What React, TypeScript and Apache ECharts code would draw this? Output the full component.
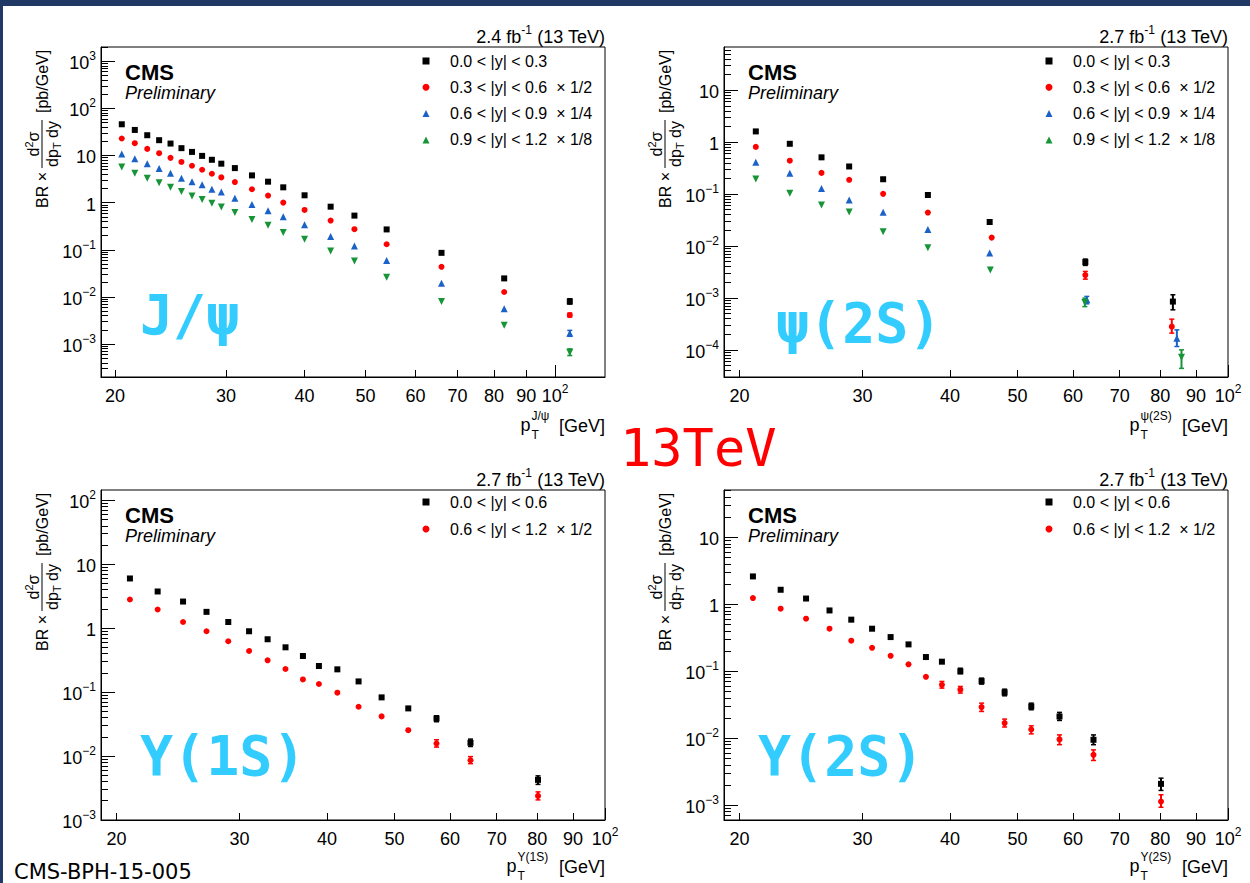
import React, { useEffect, useRef } from 'react';
import * as echarts from 'echarts';

const FONT = '"Liberation Sans", Arial, Helvetica, sans-serif';
const MONO = '"DejaVu Sans Mono", monospace';
const C_BLACK = '#000000';
const C_RED = '#ff0000';
const C_BLUE = '#1a62c7';
const C_GREEN = '#179437';
const C_CYAN = '#33ccff';

// ---------------- J/psi ----------------
const jpsiPt = [20.5, 21.5, 22.5, 23.5, 24.5, 25.5, 26.5, 27.5, 28.5, 29.5, 31, 33, 35, 37, 40, 44, 48, 54, 66, 83, 105.5];
const jpsiY1 = [45.9, 34.8, 26.9, 21.1, 17.9, 14.3, 11.9, 9.8, 8.1, 6.7, 5.4, 3.78, 2.78, 2.11, 1.43, 0.82, 0.53, 0.27, 0.086, 0.0247, 0.008];
const jpsiY2 = [22.9, 18.2, 13.8, 11.2, 8.9, 7.3, 6.05, 4.98, 4.1, 3.43, 2.73, 1.92, 1.41, 1.0, 0.7, 0.417, 0.273, 0.131, 0.0435, 0.0127, 0.0041];
const jpsiY3 = [10.8, 8.5, 6.7, 5.3, 4.2, 3.3, 2.78, 2.4, 1.91, 1.68, 1.24, 0.91, 0.67, 0.5, 0.34, 0.19, 0.12, 0.059, 0.0196, 0.0056, 0.0017];
const jpsiY4 = [5.7, 4.2, 3.3, 2.65, 2.11, 1.73, 1.38, 1.17, 0.97, 0.81, 0.615, 0.44, 0.33, 0.232, 0.168, 0.094, 0.058, 0.026, 0.008, 0.0025, 0.00067];
const jpsiErr1 = [[105.5, 0.00705, 0.00914]];
const jpsiErr2 = [[105.5, 0.00374, 0.00455]];
const jpsiErr3 = [[105.5, 0.00146, 0.00195]];
const jpsiErr4 = [[105.5, 0.00057, 0.00079]];

// ---------------- psi(2S) ----------------
const psiPt1 = [21.1, 23.6, 26.2, 28.7, 32.1, 37.2, 45.6, 62.5, 83.4];
const psiPt2 = [21.1, 23.6, 26.2, 28.7, 32.1, 37.2, 45.9, 62.5, 83.1];
const psiPt3 = [21.1, 23.6, 26.2, 28.7, 32.1, 37.2, 45.6, 62.8, 84.5];
const psiPt4 = [21.1, 23.6, 26.2, 28.7, 32.1, 37.2, 45.7, 62.4, 85.8];
const psiY1 = [1.61, 0.93, 0.51, 0.34, 0.193, 0.096, 0.029, 0.0049, 0.00085];
const psiY2 = [0.81, 0.44, 0.256, 0.188, 0.101, 0.044, 0.0145, 0.00275, 0.00028];
const psiY3 = [0.41, 0.252, 0.128, 0.077, 0.0446, 0.0207, 0.0073, 0.00092, 0.000168];
const psiY4 = [0.196, 0.104, 0.0618, 0.0453, 0.0189, 0.0093, 0.00344, 0.00082, 0.0000723];
const psiErr1 = [[62.5, 0.00423, 0.0056], [83.4, 0.00059, 0.00115]];
const psiErr2 = [[62.5, 0.0023, 0.00324], [83.1, 0.00021, 0.00039]];
const psiErr3 = [[62.8, 0.00077, 0.00107], [84.5, 0.000116, 0.000243]];
const psiErr4 = [[62.4, 0.00068, 0.00099], [85.8, 0.000044, 0.0001]];

// ---------------- Upsilon(1S) ----------------
const upsPt = [20.9, 22.9, 24.9, 26.9, 28.9, 30.95, 32.9, 34.9, 36.96, 38.96, 41.4, 44.4, 47.9, 52.3, 57.4, 64.2, 80.2];
const ups1Y1 = [5.99, 3.75, 2.61, 1.8, 1.25, 0.895, 0.671, 0.502, 0.367, 0.256, 0.227, 0.147, 0.0827, 0.0556, 0.0387, 0.0161, 0.00424];
const ups1Y2 = [2.81, 1.96, 1.25, 0.895, 0.624, 0.44, 0.314, 0.23, 0.158, 0.134, 0.098, 0.059, 0.0417, 0.0254, 0.0157, 0.0086, 0.00238];
const ups1Err1 = [[57.4, 0.0344, 0.0427], [64.2, 0.0141, 0.0184], [80.2, 0.0036, 0.0049]];
const ups1Err2 = [[57.4, 0.0138, 0.018], [64.2, 0.0076, 0.0098], [80.2, 0.00206, 0.00275]];

// ---------------- Upsilon(2S) ----------------
const ups2Y1 = [2.61, 1.65, 1.22, 0.81, 0.59, 0.432, 0.324, 0.252, 0.163, 0.139, 0.1, 0.0713, 0.0483, 0.0298, 0.0211, 0.00947, 0.00208];
const ups2Y2 = [1.24, 0.86, 0.61, 0.432, 0.286, 0.224, 0.17, 0.127, 0.0827, 0.0628, 0.053, 0.0292, 0.0168, 0.0135, 0.0096, 0.00565, 0.00113];
const ups2Err1 = [[41.4, 0.0918, 0.111], [44.4, 0.0643, 0.079], [47.9, 0.043, 0.054], [52.3, 0.0266, 0.0334], [57.4, 0.0184, 0.0243], [64.2, 0.008, 0.0112], [80.2, 0.00166, 0.00253]];
const ups2Err2 = [[38.96, 0.056, 0.0705], [41.4, 0.0472, 0.0593], [44.4, 0.0251, 0.0334], [47.9, 0.0147, 0.0193], [52.3, 0.0116, 0.0153], [57.4, 0.008, 0.0112], [64.2, 0.00465, 0.0067], [80.2, 0.00093, 0.00143]];

// ---------------- labels ----------------
const rapNames4 = ['0.0 < |y| < 0.3', '0.3 < |y| < 0.6  × 1/2', '0.6 < |y| < 0.9  × 1/4', '0.9 < |y| < 1.2  × 1/8'];
const rapNames2 = ['0.0 < |y| < 0.6', '0.6 < |y| < 1.2  × 1/2'];
const xLabelValues = [20, 30, 40, 50, 60, 70, 80, 90, 100];
const xMinorTickValues = [20, 30, 40, 50, 60, 70, 80, 90];
const xMajorTickValues = [100];
const stateNames = ['J/ψ', 'ψ(2S)', 'Υ(1S)', 'Υ(2S)'];
const lumiValues = ['2.4', '2.7', '2.7', '2.7'];

// ---------------- layout (positions only) ----------------
const panels = [
  { left: 101, top: 47, width: 504, height: 330, xMin: 19, xMax: 120, yMin: 2e-4, yMax: 2000, supOff: 74, bigX: 140, bigY: 315 },
  { left: 724, top: 47, width: 504, height: 330, xMin: 19, xMax: 100.01, yMin: 3e-5, yMax: 68, supOff: 88, bigX: 776, bigY: 323 },
  { left: 101, top: 490, width: 504, height: 330, xMin: 19, xMax: 100.01, yMin: 0.000999, yMax: 145, supOff: 88, bigX: 140, bigY: 756 },
  { left: 724, top: 490, width: 504, height: 330, xMin: 19, xMax: 100.01, yMin: 6e-4, yMax: 51, supOff: 88, bigX: 758, bigY: 756 },
];

const axisRich = {
  b: { fontFamily: FONT, fontSize: 18, lineHeight: 22, verticalAlign: 'bottom', color: '#000' },
  s: { fontFamily: FONT, fontSize: 12, lineHeight: 8, verticalAlign: 'top', color: '#000' },
};

function yFmt(v: number) {
  const e = Math.round(Math.log10(v));
  if (e === 0) return '{b|1}';
  if (e === 1) return '{b|10}';
  return '{b|10}{s|' + (e < 0 ? '−' : '') + Math.abs(e) + '}';
}
function xFmt(v: number) {
  if (Math.abs(v - 100) < 1e-6) return '{b|10}{s|2}';
  return '{b|' + Math.round(v) + '}';
}
function decadeValues(lo: number, hi: number) {
  const out: number[] = [];
  for (let k = Math.floor(Math.log10(lo)) - 1; k <= Math.ceil(Math.log10(hi)); k++) {
    const v = Number(Math.pow(10, k).toPrecision(6));
    if (v >= lo && v <= hi) out.push(v);
  }
  return out;
}
function minorValues(lo: number, hi: number) {
  const out: number[] = [];
  for (let k = Math.floor(Math.log10(lo)) - 1; k <= Math.ceil(Math.log10(hi)); k++) {
    for (let m = 2; m <= 9; m++) {
      const v = Number((m * Math.pow(10, k)).toPrecision(6));
      if (v >= lo && v <= hi) out.push(v);
    }
  }
  return out;
}

function scatter(name: string, xs: number[], ys: number[], pi: number, symbol: string, color: string, size: number, rotate = 0) {
  return {
    type: 'scatter', name, xAxisIndex: pi * 2, yAxisIndex: pi * 2,
    data: xs.map((x, i) => [x, ys[i]]),
    symbol, symbolSize: size, symbolRotate: rotate,
    itemStyle: { color, opacity: 1 }, z: 3, silent: true,
    emphasis: { disabled: true },
  };
}
function errBars(list: number[][], pi: number, color: string) {
  return {
    type: 'custom', xAxisIndex: pi * 2, yAxisIndex: pi * 2, data: list, z: 2, silent: true,
    encode: { x: 0, y: [1, 2] },
    renderItem: (params: any, api: any) => {
      const x = api.value(0);
      const p1 = api.coord([x, api.value(1)]);
      const p2 = api.coord([x, api.value(2)]);
      return {
        type: 'group',
        children: [
          { type: 'line', shape: { x1: p1[0], y1: p1[1], x2: p2[0], y2: p2[1] }, style: { stroke: color, lineWidth: 2 } },
          { type: 'line', shape: { x1: p1[0] - 2.5, y1: p1[1], x2: p1[0] + 2.5, y2: p1[1] }, style: { stroke: color, lineWidth: 1.5 } },
          { type: 'line', shape: { x1: p2[0] - 2.5, y1: p2[1], x2: p2[0] + 2.5, y2: p2[1] }, style: { stroke: color, lineWidth: 1.5 } },
        ],
      };
    },
  };
}

function txt(x: number, y: number, text: string, size: number, align: string, extra: any = {}) {
  return {
    type: 'text', x, y, silent: true,
    style: {
      text, fontSize: size, fontFamily: FONT, fill: '#000',
      align, textAlign: align, verticalAlign: 'middle', textVerticalAlign: 'middle', ...extra,
    },
  };
}

function buildOption() {
  const grid: any[] = [];
  const xAxis: any[] = [];
  const yAxis: any[] = [];
  const legend: any[] = [];
  const graphic: any[] = [];
  const lineStyle = { color: '#000', width: 1 };

  panels.forEach((p, i) => {
    grid.push({ left: p.left, top: p.top, width: p.width, height: p.height, show: true, borderColor: '#000', borderWidth: 1, backgroundColor: 'transparent', containLabel: false });
    xAxis.push({
      type: 'log', gridIndex: i, min: p.xMin, max: p.xMax, position: 'bottom',
      axisLine: { show: true, onZero: false, lineStyle },
      axisTick: { show: true, inside: true, length: 7, customValues: xMinorTickValues, lineStyle },
      axisLabel: { show: true, customValues: xLabelValues, formatter: xFmt, margin: 6, rich: axisRich, color: '#000' },
      splitLine: { show: false }, minorTick: { show: false },
    });
    xAxis.push({
      type: 'log', gridIndex: i, min: p.xMin, max: p.xMax, position: 'bottom',
      axisLine: { show: false, onZero: false },
      axisTick: { show: true, inside: true, length: 12, customValues: xMajorTickValues, lineStyle },
      axisLabel: { show: false }, splitLine: { show: false },
    });
    yAxis.push({
      type: 'log', gridIndex: i, min: p.yMin, max: p.yMax, position: 'left',
      axisLine: { show: true, onZero: false, lineStyle },
      axisTick: { show: true, inside: true, length: 7, customValues: minorValues(p.yMin, p.yMax), lineStyle },
      axisLabel: { show: true, customValues: decadeValues(p.yMin, p.yMax), formatter: yFmt, margin: 5, rich: axisRich, color: '#000' },
      splitLine: { show: false }, minorTick: { show: false },
    });
    yAxis.push({
      type: 'log', gridIndex: i, min: p.yMin, max: p.yMax, position: 'left',
      axisLine: { show: false, onZero: false },
      axisTick: { show: true, inside: true, length: 14, customValues: decadeValues(p.yMin, p.yMax), lineStyle },
      axisLabel: { show: false }, splitLine: { show: false },
    });
    legend.push({
      show: true, orient: 'vertical', left: p.left + 321.5, top: p.top + (i < 2 ? 6 : 4),
      padding: 0, itemWidth: 7, itemHeight: 7, itemGap: i < 2 ? 10.3 : 11,
      selectedMode: false, data: i < 2 ? rapNames4 : rapNames2,
      textStyle: { fontFamily: FONT, fontSize: 16, color: '#000', padding: [0, 0, 0, 15.5] },
    });

    const right = p.left + p.width;
    const top2 = i >= 2;
    // lumi
    graphic.push({
      type: 'text', x: right, y: p.top - 12, silent: true,
      style: {
        text: '{a|' + lumiValues[i] + ' fb}{s|-1}{a| (13 TeV)}', align: 'right', textAlign: 'right', verticalAlign: 'middle', textVerticalAlign: 'middle',
        rich: {
          a: { fontFamily: FONT, fontSize: 18, lineHeight: 22, verticalAlign: 'bottom', fill: '#000', color: '#000' },
          s: { fontFamily: FONT, fontSize: 12, lineHeight: 8, verticalAlign: 'top', fill: '#000', color: '#000' },
        },
      },
    });
    // CMS Preliminary
    graphic.push(txt(p.left + 24, p.top + 25, 'CMS', 22, 'left', { fontWeight: 'bold', lineHeight: 20 }));
    graphic.push(txt(p.left + 24, p.top + 46, 'Preliminary', 18, 'left', { fontStyle: 'italic', lineHeight: 18 }));
    // x title
    const baseY = p.top + p.height + (top2 ? 47 : 49);
    const supLeft = right - p.supOff;
    graphic.push(txt(right, baseY, '[GeV]', 18, 'right'));
    graphic.push(txt(supLeft - 0.5, baseY - 1, 'p', 18, 'right'));
    graphic.push(txt(supLeft + 0.5, baseY - 10.5, stateNames[i], 12, 'left'));
    graphic.push(txt(supLeft + 0.5, baseY + 8.5, 'T', 12, 'left'));
    // y title (rotated)
    graphic.push({
      type: 'group', x: p.left - 59, y: p.top + 161, rotation: Math.PI / 2, silent: true,
      children: [
        txt(0, 0, 'BR ×', 16, 'left'),
        { type: 'line', shape: { x1: 40, y1: 0, x2: 88, y2: 0 }, style: { stroke: '#000', lineWidth: 1 } },
        {
          type: 'text', x: 64, y: -10,
          style: {
            text: '{a|d}{s|2}{a|σ}', align: 'center', textAlign: 'center', verticalAlign: 'middle', textVerticalAlign: 'middle',
            rich: {
              a: { fontFamily: FONT, fontSize: 16, lineHeight: 18, verticalAlign: 'bottom', fill: '#000', color: '#000' },
              s: { fontFamily: FONT, fontSize: 11, lineHeight: 8, verticalAlign: 'top', fill: '#000', color: '#000' },
            },
          },
        },
        txt(41, 10, 'dp', 16, 'left'),
        txt(59, 15, 'T', 11, 'left'),
        txt(70, 10, 'dy', 16, 'left'),
        txt(95, 0, '[pb/GeV]', 16, 'left'),
      ],
    });
    // big state label
    graphic.push({
      type: 'text', x: p.bigX, y: p.bigY, silent: true,
      style: { text: stateNames[i], fontFamily: MONO, fontSize: 55, fontWeight: 'bold', fill: C_CYAN, align: 'left', textAlign: 'left', verticalAlign: 'middle', textVerticalAlign: 'middle' },
    });
  });

  graphic.push({
    type: 'text', x: 620, y: 448, silent: true,
    style: { text: '13TeV', fontFamily: MONO, fontSize: 52, fill: C_RED, align: 'left', textAlign: 'left', verticalAlign: 'middle', textVerticalAlign: 'middle' },
  });
  graphic.push({
    type: 'text', x: 14, y: 872, silent: true,
    style: { text: 'CMS-BPH-15-005', fontFamily: '"DejaVu Sans", sans-serif', fontSize: 21, fill: '#000', align: 'left', textAlign: 'left', verticalAlign: 'middle', textVerticalAlign: 'middle' },
  });
  graphic.push({ type: 'rect', shape: { x: 0, y: 0, width: 1250, height: 6 }, style: { fill: '#1f3864' }, silent: true });
  graphic.push({ type: 'rect', shape: { x: 0, y: 0, width: 3, height: 883 }, style: { fill: '#1f3864' }, silent: true });

  const series: any[] = [
    errBars(jpsiErr1, 0, C_BLACK), errBars(jpsiErr2, 0, C_RED), errBars(jpsiErr3, 0, C_BLUE), errBars(jpsiErr4, 0, C_GREEN),
    scatter(rapNames4[0], jpsiPt, jpsiY1, 0, 'rect', C_BLACK, 6),
    scatter(rapNames4[1], jpsiPt, jpsiY2, 0, 'circle', C_RED, 6),
    scatter(rapNames4[2], jpsiPt, jpsiY3, 0, 'triangle', C_BLUE, 7),
    scatter(rapNames4[3], jpsiPt, jpsiY4, 0, 'triangle', C_GREEN, 7, 180),

    errBars(psiErr1, 1, C_BLACK), errBars(psiErr2, 1, C_RED), errBars(psiErr3, 1, C_BLUE), errBars(psiErr4, 1, C_GREEN),
    scatter(rapNames4[0], psiPt1, psiY1, 1, 'rect', C_BLACK, 6),
    scatter(rapNames4[1], psiPt2, psiY2, 1, 'circle', C_RED, 6),
    scatter(rapNames4[2], psiPt3, psiY3, 1, 'triangle', C_BLUE, 7),
    scatter(rapNames4[3], psiPt4, psiY4, 1, 'triangle', C_GREEN, 7, 180),

    errBars(ups1Err1, 2, C_BLACK), errBars(ups1Err2, 2, C_RED),
    scatter(rapNames2[0], upsPt, ups1Y1, 2, 'rect', C_BLACK, 6),
    scatter(rapNames2[1], upsPt, ups1Y2, 2, 'circle', C_RED, 6),

    errBars(ups2Err1, 3, C_BLACK), errBars(ups2Err2, 3, C_RED),
    scatter(rapNames2[0], upsPt, ups2Y1, 3, 'rect', C_BLACK, 6),
    scatter(rapNames2[1], upsPt, ups2Y2, 3, 'circle', C_RED, 6),
  ];

  return {
    animation: false,
    backgroundColor: '#ffffff',
    textStyle: { fontFamily: FONT },
    grid, xAxis, yAxis, legend, series, graphic,
  };
}

export default function App() {
  const ref = useRef<HTMLDivElement>(null);
  useEffect(() => {
    if (!ref.current) return;
    const chart = echarts.init(ref.current, null, { renderer: 'svg' });
    chart.setOption(buildOption() as any);
    return () => chart.dispose();
  }, []);
  return <div ref={ref} style={{ position: 'absolute', left: 0, top: 0, width: 1250, height: 883, background: '#fff' }} />;
}
